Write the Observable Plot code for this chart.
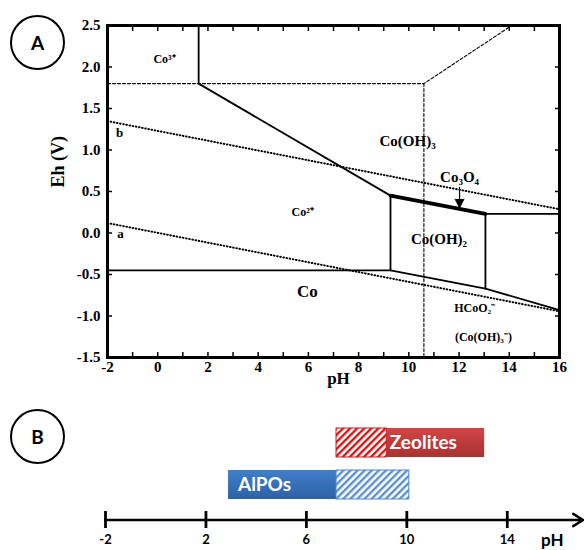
<!DOCTYPE html>
<html><head><meta charset="utf-8">
<script src="https://cdn.jsdelivr.net/npm/d3@7"></script>
<script src="https://cdn.jsdelivr.net/npm/@observablehq/plot@0.6"></script>
<style>
body{margin:0;background:#fff}
#wrap{position:relative;width:584px;height:550px;overflow:hidden;background:#fff}
.panel{position:absolute;left:0}
.panel svg text{font-weight:bold}
.badge{position:absolute;width:55px;height:55px;border:2px solid #000;border-radius:50%;font:bold 19px Lato, sans-serif;display:flex;align-items:center;justify-content:center;box-sizing:border-box;color:#000}
</style></head><body>
<div id="wrap">
<div id="top" class="panel" style="top:0"></div>
<div id="bars" class="panel" style="top:395px"></div>
<div id="axis" class="panel" style="top:505px"></div>
<div class="badge" style="left:10px;top:15px">A</div>
<div class="badge" style="left:10px;top:409px">B</div>
</div>
<script>
// ---------- Panel A data (pH, Eh in V) ----------
const phTicks = [-2, 0, 2, 4, 6, 8, 10, 12, 14, 16];
const phMinorTicks = [-2, -1, 0, 1, 2, 3, 4, 5, 6, 7, 8, 9, 10, 11, 12, 13, 14, 15, 16];
const ehTicks = [-1.5, -1.0, -0.5, 0.0, 0.5, 1.0, 1.5, 2.0, 2.5];

// solid phase boundaries
const boundaryCo3Co2 = [[1.63, 2.5], [1.63, 1.8], [9.27, 0.45]];
const boundaryCo2CoOH2 = [[9.27, 0.45], [9.27, -0.45]];
const boundaryCoCo2 = [[-2, -0.45], [9.27, -0.45]];
const boundaryCoLower = [[9.27, -0.45], [13.05, -0.67], [16, -0.93]];
const boundaryCoOH2HCoO2 = [[13.05, 0.23], [13.05, -0.67]];
const boundaryCo3O4Right = [[13.05, 0.23], [16, 0.23]];
const boundaryCo3O4 = [[9.27, 0.45], [13.05, 0.23]]; // thick
// dashed boundaries
const dashedHorizontal = [[-2, 1.8], [10.6, 1.8], [14.1, 2.5]];
const dashedVertical = [[10.6, 1.8], [10.6, -1.5]];
// water stability lines
const waterA = [[-2, 0.12], [16, -0.944]];
const waterB = [[-2, 1.348], [16, 0.286]];

// labels
const regionNames = ["Co(OH)\u2083", "Co\u2083O\u2084", "Co(OH)\u2082"];
const regionPH = [9.95, 12.02, 11.2];
const regionEh = [1.11, 0.67, -0.08];
const ionNames = ["Co\u00b3\u207a", "Co\u00b2\u207a", "HCoO\u2082\u207b", "(Co(OH)\u2083\u207b)"];
const ionPH = [0.27, 5.77, 12.62, 12.97];
const ionEh = [2.10, 0.25, -0.91, -1.26];
const metalName = ["Co"];
const metalPH = [5.96];
const metalEh = [-0.70];
const waterNames = ["a", "b"];
const waterPH = [-1.48, -1.52];
const waterEh = [-0.01, 1.21];
const arrowPH = [12.02];
const arrowFrom = [0.55];
const arrowTo = [0.30];

// ---------- Panel B data ----------
const materials = ["Zeolites", "AlPOs"];
const solidStart = [9.2, 2.9];
const solidEnd = [13.1, 7.2];
const hatchStart = [7.2, 7.2];
const hatchEnd = [9.2, 10.1];
const labelPH = [9.32, 3.28];
const bottomTicks = [-2, 2, 6, 10, 14];
const bottomAxisEnd = 17.02;

const serif = '"Liberation Serif", "Times New Roman", serif';
const sans = 'Lato, "Open Sans", sans-serif';

const lineOf = (pts, o) => Plot.line(pts, {x: d => d[0], y: d => d[1], stroke: "black", ...o});
const solid = {strokeWidth: 1.8, strokeLinejoin: "miter"};
const dashed = {strokeWidth: 1.1, strokeDasharray: "3,2"};
const dotted = {strokeWidth: 2, strokeDasharray: "0.6,2.6", strokeLinecap: "round"};

const topPlot = Plot.plot({
  width: 584, height: 395,
  marginLeft: 107, marginRight: 25, marginTop: 25, marginBottom: 38,
  x: {domain: [-2, 16]},
  y: {domain: [-1.5, 2.5]},
  style: {fontFamily: serif, fontWeight: "bold", background: "white", color: "black"},
  marks: [
    lineOf(dashedHorizontal, dashed),
    lineOf(dashedVertical, dashed),
    lineOf(waterA, dotted),
    lineOf(waterB, dotted),
    lineOf(boundaryCo3Co2, solid),
    lineOf(boundaryCo2CoOH2, solid),
    lineOf(boundaryCoCo2, solid),
    lineOf(boundaryCoLower, solid),
    lineOf(boundaryCoOH2HCoO2, solid),
    lineOf(boundaryCo3O4Right, solid),
    lineOf(boundaryCo3O4, {strokeWidth: 3.8}),
    Plot.ruleX(arrowPH, {x: d => d, y1: (d, i) => arrowFrom[i], y2: (d, i) => arrowTo[i] + 0.06, stroke: "black", strokeWidth: 1.2}),
    Plot.vector(arrowPH, {x: d => d, y: (d, i) => arrowTo[i], rotate: 180, length: 9, r: 4.5, shape: "spike", anchor: "end", fill: "black", stroke: "black", strokeWidth: 0.8}),
    Plot.text(regionNames, {x: (d, i) => regionPH[i], y: (d, i) => regionEh[i], text: d => d, fontSize: 15, fontWeight: "bold", fill: "black"}),
    Plot.text(ionNames, {x: (d, i) => ionPH[i], y: (d, i) => ionEh[i], text: d => d, fontSize: 12, fontWeight: "bold", fill: "black"}),
    Plot.text(metalName, {x: (d, i) => metalPH[i], y: (d, i) => metalEh[i], text: d => d, fontSize: 17, fontWeight: "bold", fill: "black"}),
    Plot.text(waterNames, {x: (d, i) => waterPH[i], y: (d, i) => waterEh[i], text: d => d, fontSize: 13, fontWeight: "bold", fill: "black"}),
    Plot.frame({stroke: "black", strokeWidth: 3}),
    Plot.axisX(phTicks, {anchor: "bottom", tickSize: 0, tickPadding: 4, fontSize: 15, fontWeight: "bold", label: null, tickFormat: d => String(d)}),
    Plot.axisX(phMinorTicks, {anchor: "bottom", tickSize: -5, strokeWidth: 1.5, tickFormat: () => "", label: null}),
    Plot.axisX(phMinorTicks, {anchor: "top", tickSize: -5, strokeWidth: 1.5, tickFormat: () => "", label: null}),
    Plot.axisY(ehTicks, {anchor: "left", tickSize: 0, tickPadding: 7, fontSize: 15, fontWeight: "bold", label: null, tickFormat: d => d.toFixed(1)}),
    Plot.axisY(ehTicks, {anchor: "left", tickSize: -5, strokeWidth: 1.5, tickFormat: () => "", label: null}),
    Plot.axisY(ehTicks, {anchor: "right", tickSize: -5, strokeWidth: 1.5, tickFormat: () => "", label: null}),
    Plot.text(["pH"], {frameAnchor: "bottom", dx: 5, dy: 26, fontSize: 17, fontWeight: "bold", fill: "black"}),
    Plot.text(["Eh (V)"], {frameAnchor: "left", dx: -49, dy: -4, rotate: -90, fontSize: 18, fontWeight: "bold", fill: "black"})
  ]
});
document.getElementById("top").append(topPlot);

// ---------- Panel B: bars ----------
const rows = materials.map((m, i) => ({m, solidStart: solidStart[i], solidEnd: solidEnd[i], hatchStart: hatchStart[i], hatchEnd: hatchEnd[i], labelPH: labelPH[i]}));
const fills = {Zeolites: {grad: "url(#gradZeo)", hatch: "url(#hatchZeo)", edge: "#d01818"},
               AlPOs: {grad: "url(#gradAlpo)", hatch: "url(#hatchAlpo)", edge: "#4f86cc"}};

const barPlot = Plot.plot({
  width: 584, height: 110,
  marginLeft: 105, marginRight: 27, marginTop: 0, marginBottom: 0,
  x: {domain: [-2, 16], axis: null},
  y: {type: "band", domain: materials, range: [32, 105], paddingInner: 0.3023, paddingOuter: 0, axis: null},
  style: {background: "white", fontWeight: "bold"},
  marks: [
    ...rows.flatMap(r => [
      Plot.barX([r], {x1: "solidStart", x2: "solidEnd", y: "m", fill: fills[r.m].grad}),
      Plot.barX([r], {x1: "hatchStart", x2: "hatchEnd", y: "m", fill: fills[r.m].hatch, stroke: fills[r.m].edge, strokeWidth: 1})
    ]),
    Plot.text(rows, {x: "labelPH", y: "m", text: "m", textAnchor: "start", fill: "white", fontSize: 19, fontWeight: "bold", fontFamily: sans})
  ]
});
const defs = d3.select(barPlot).insert("defs", ":first-child");
function grad(id, c1, c2) {
  const g = defs.append("linearGradient").attr("id", id).attr("x1", 0).attr("y1", 0).attr("x2", 0).attr("y2", 1);
  g.append("stop").attr("offset", "0%").attr("stop-color", c1);
  g.append("stop").attr("offset", "100%").attr("stop-color", c2);
}
function hatch(id, c) {
  const p = defs.append("pattern").attr("id", id).attr("patternUnits", "userSpaceOnUse")
    .attr("width", 5).attr("height", 5).attr("patternTransform", "rotate(45)");
  p.append("rect").attr("width", 5).attr("height", 5).attr("fill", "white");
  p.append("rect").attr("width", 2.4).attr("height", 5).attr("fill", c);
}
grad("gradZeo", "#d24545", "#a93232");
grad("gradAlpo", "#3f7fcb", "#2f61a3");
hatch("hatchZeo", "#d01818");
hatch("hatchAlpo", "#5a8fd2");
document.getElementById("bars").append(barPlot);

// ---------- Panel B: axis ----------
const axisPlot = Plot.plot({
  width: 584, height: 45,
  marginLeft: 105, marginRight: 27, marginTop: 6, marginBottom: 22,
  x: {domain: [-2, 16]},
  y: {domain: [-1, 1], axis: null},
  style: {fontFamily: sans, fontWeight: "bold", background: "white", color: "black", overflow: "visible"},
  marks: [
    Plot.arrow([0], {x1: bottomTicks[0], x2: bottomAxisEnd, y1: 0, y2: 0, stroke: "black", strokeWidth: 2.5, headLength: 7, headAngle: 64}),
    Plot.tickX(bottomTicks, {x: d => d, stroke: "black", strokeWidth: 2.8}),
    Plot.axisX(bottomTicks, {anchor: "bottom", tickSize: 0, tickPadding: 6, fontSize: 13, fontWeight: "bold", label: null, tickFormat: d => String(d)}),
    Plot.text(["pH"], {frameAnchor: "bottom-right", dx: 6, dy: 17, fontSize: 17, fontWeight: "bold", fill: "black"})
  ]
});
document.getElementById("axis").append(axisPlot);
</script>
</body></html>
